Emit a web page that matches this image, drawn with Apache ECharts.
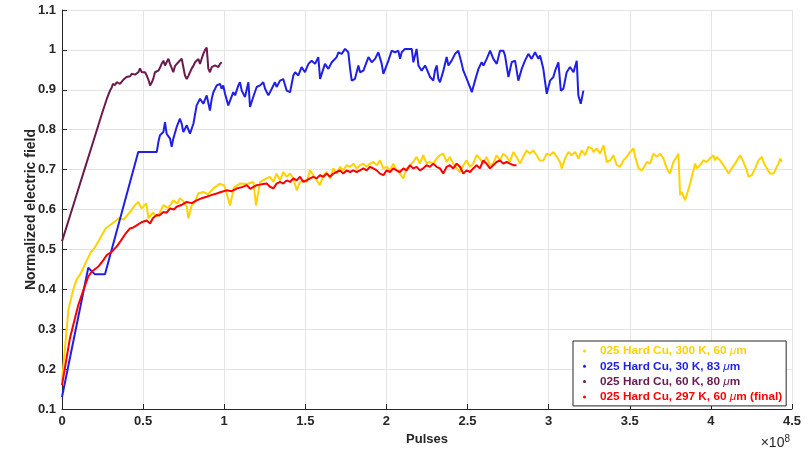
<!DOCTYPE html>
<html>
<head>
<meta charset="utf-8">
<script src="https://cdn.jsdelivr.net/npm/echarts@6/dist/echarts.min.js"></script>
<style>
  html, body { margin: 0; padding: 0; background: #fff; }
  #chart { width: 809px; height: 451px; }
</style>
</head>
<body>
<div id="chart"></div>
<script>
// Pulses are in units of 1e8; values are the normalized electric field.
const seriesNames = [
  '025 Hard Cu, 300 K, 60 μm',
  '025 Hard Cu, 30 K, 83 μm',
  '025 Hard Cu, 60 K, 80 μm',
  '025 Hard Cu, 297 K, 60 μm (final)'
];
const seriesColors = ['#ffd200', '#1f1fe6', '#6b1a4d', '#ff0000'];

const xTicks = { min: 0, max: 4.5, step: 0.5 };
const yTicks = { min: 0.1, max: 1.1, step: 0.1 };

const hardCu300K = [
  [0,0.17],[0.04,0.35],[0.07,0.40],[0.09,0.425],[0.11,0.436],[0.12,0.444],[0.13,0.44],[0.15,0.47],
  [0.18,0.494],[0.2,0.503],[0.235,0.528],[0.27,0.553],[0.31,0.565],[0.35,0.578],[0.38,0.575],
  [0.42,0.594],[0.45,0.611],[0.47,0.619],[0.49,0.603],[0.52,0.615],[0.533,0.578],[0.56,0.592],
  [0.584,0.583],[0.6,0.59],[0.625,0.611],[0.65,0.604],[0.67,0.612],[0.686,0.623],[0.71,0.615],
  [0.727,0.628],[0.75,0.62],[0.769,0.607],[0.779,0.578],[0.8,0.611],[0.82,0.62],[0.84,0.64],
  [0.871,0.644],[0.9,0.638],[0.933,0.653],[0.974,0.665],[1.0,0.66],[1.036,0.61],[1.06,0.655],
  [1.097,0.665],[1.14,0.664],[1.18,0.669],[1.196,0.61],[1.221,0.669],[1.262,0.678],
  [1.282,0.682],[1.303,0.669],[1.323,0.690],[1.344,0.673],[1.364,0.694],[1.385,0.682],[1.406,0.690],
  [1.426,0.678],[1.447,0.648],[1.467,0.669],[1.488,0.673],[1.508,0.669],[1.529,0.698],[1.549,0.686],
  [1.570,0.673],[1.590,0.661],[1.611,0.686],[1.632,0.694],[1.652,0.678],[1.673,0.703],[1.693,0.690],
  [1.714,0.707],[1.734,0.698],[1.755,0.711],[1.776,0.707],[1.796,0.715],[1.816,0.703],[1.837,0.711],
  [1.858,0.715],[1.878,0.707],[1.899,0.715],[1.919,0.719],[1.940,0.711],[1.960,0.723],[1.981,0.703],
  [2.001,0.707],[2.022,0.698],[2.042,0.715],[2.063,0.698],[2.083,0.690],[2.104,0.678],[2.124,0.703],
  [2.145,0.711],[2.165,0.719],[2.186,0.732],[2.206,0.715],[2.227,0.736],[2.247,0.715],[2.268,0.719],
  [2.289,0.715],[2.309,0.728],[2.330,0.736],[2.350,0.740],[2.371,0.719],[2.391,0.732],[2.412,0.715],
  [2.433,0.703],[2.453,0.694],[2.474,0.711],[2.494,0.723],[2.515,0.707],[2.535,0.715],[2.556,0.736],
  [2.576,0.728],[2.597,0.715],[2.617,0.732],[2.638,0.711],[2.658,0.715],[2.679,0.736],[2.700,0.723],
  [2.720,0.740],[2.741,0.732],[2.761,0.719],[2.782,0.744],[2.802,0.732],[2.823,0.715],[2.843,0.732],
  [2.864,0.748],[2.884,0.740],[2.905,0.748],[2.926,0.736],[2.946,0.723],
  [2.968,0.723],[2.988,0.740],[3.009,0.736],[3.029,0.744],[3.050,0.732],[3.070,0.719],[3.081,0.703],
  [3.101,0.728],[3.122,0.744],[3.142,0.736],[3.153,0.732],[3.163,0.744],[3.184,0.728],[3.204,0.748],
  [3.225,0.736],[3.245,0.757],[3.266,0.753],[3.276,0.744],[3.297,0.753],[3.317,0.740],[3.338,0.761],
  [3.348,0.740],[3.358,0.719],[3.379,0.723],[3.399,0.736],[3.420,0.711],[3.440,0.707],[3.461,0.723],
  [3.481,0.732],[3.502,0.744],[3.523,0.753],[3.533,0.732],[3.554,0.703],[3.574,0.698],[3.595,0.711],
  [3.605,0.719],[3.625,0.715],[3.646,0.740],[3.656,0.744],[3.666,0.732],[3.687,0.740],[3.707,0.728],
  [3.718,0.732],[3.728,0.703],[3.748,0.690],[3.769,0.719],[3.789,0.732],[3.800,0.740],[3.810,0.636],
  [3.820,0.644],[3.831,0.648],[3.841,0.623],[3.851,0.636],[3.872,0.665],[3.892,0.698],[3.903,0.715],
  [3.913,0.703],[3.933,0.711],[3.954,0.723],[3.974,0.719],[3.995,0.728],[4.015,0.736],[4.026,0.723],
  [4.036,0.732],[4.057,0.723],[4.077,0.711],[4.098,0.698],[4.108,0.690],[4.129,0.703],[4.149,0.715],
  [4.180,0.736],[4.190,0.740],[4.201,0.719],[4.221,0.698],[4.232,0.682],[4.252,0.686],[4.273,0.703],
  [4.293,0.723],[4.314,0.732],[4.324,0.719],[4.345,0.703],[4.365,0.690],[4.386,0.690],[4.406,0.707],
  [4.417,0.715],[4.427,0.728],[4.437,0.719]
];

const hardCu30K = [
  [0,0.13],[0.162,0.454],[0.173,0.45],[0.203,0.4375],[0.265,0.4375],[0.47,0.744],[0.584,0.744],
  [0.594,0.769],[0.604,0.786],[0.614,0.782],[0.625,0.794],[0.635,0.819],[0.645,0.79],[0.656,0.786],
  [0.666,0.7775],[0.676,0.757],[0.686,0.7775],[0.707,0.807],[0.727,0.8275],[0.738,0.815],[0.748,0.794],
  [0.769,0.811],[0.789,0.79],[0.810,0.815],[0.830,0.861],[0.851,0.8775],[0.871,0.865],[0.892,0.886],
  [0.912,0.848],[0.923,0.8775],[0.933,0.894],[0.954,0.911],[0.974,0.915],[0.984,0.9025],[0.994,0.911],
  [1.005,0.89],[1.025,0.861],[1.036,0.865],[1.056,0.894],[1.067,0.886],[1.087,0.911],[1.097,0.919],
  [1.108,0.898],[1.128,0.882],[1.149,0.919],[1.159,0.857],[1.179,0.882],[1.2,0.907],[1.221,0.911],
  [1.241,0.919],[1.252,0.9025],[1.272,0.886],[1.293,0.9025],[1.313,0.919],[1.323,0.907],[1.344,0.923],
  [1.364,0.927],[1.385,0.898],[1.406,0.894],[1.426,0.936],[1.437,0.944],[1.457,0.936],
  [1.477,0.957],[1.498,0.944],[1.519,0.965],[1.539,0.973],[1.560,0.965],[1.580,0.982],[1.591,0.9275],
  [1.601,0.923],[1.621,0.965],[1.642,0.9525],[1.663,0.969],[1.693,0.982],[1.704,0.994],[1.724,0.99],
  [1.745,1.0025],[1.765,0.994],[1.776,0.9525],[1.786,0.923],[1.806,0.9275],[1.827,0.961],[1.837,0.944],
  [1.858,0.948],[1.889,0.982],[1.909,0.969],[1.930,0.9775],[1.950,0.994],[1.971,0.965],[1.981,0.94],
  [2.012,0.973],[2.032,0.998],[2.053,0.994],[2.073,0.998],[2.084,0.9775],[2.094,0.994],[2.114,1.0025],
  [2.135,1.0025],[2.156,1.0025],[2.166,0.969],[2.186,1.0025],[2.197,0.961],[2.217,0.948],[2.238,0.961],
  [2.248,0.9525],[2.269,0.932],[2.289,0.923],[2.299,0.948],[2.310,0.961],[2.320,0.9275],[2.330,0.919],
  [2.351,0.948],[2.371,0.982],[2.382,0.961],[2.402,0.973],[2.423,0.99],[2.443,0.998],[2.454,0.994],
  [2.464,0.965],[2.474,0.948],[2.495,0.9275],[2.515,0.907],[2.526,0.894],[2.546,0.923],[2.567,0.9525],
  [2.587,0.969],[2.598,0.961],[2.618,0.9775],[2.639,0.998],[2.659,0.9775],[2.680,0.965],[2.700,0.998],
  [2.721,0.998],[2.731,0.986],[2.752,0.932],[2.772,0.969],[2.793,0.973],[2.813,0.923],[2.834,0.9525],
  [2.854,0.973],[2.875,0.99],[2.895,0.9775],[2.916,0.994],[2.937,0.9775],[2.947,0.986],[2.967,0.9525],
  [2.988,0.89],[3.009,0.923],[3.029,0.932],[3.040,0.948],[3.060,0.969],[3.075,0.898],[3.091,0.903],
  [3.111,0.944],[3.132,0.957],[3.153,0.944],[3.173,0.973],[3.183,0.886],[3.198,0.865],[3.214,0.898]
];

const hardCu60K = [
  [0,0.52],[0.05,0.585],[0.10,0.65],[0.15,0.715],[0.20,0.78],[0.25,0.845],[0.276,0.877],[0.296,0.898],
  [0.306,0.905],[0.314,0.915],[0.327,0.912],[0.337,0.919],[0.347,0.921],[0.357,0.915],[0.368,0.92],
  [0.378,0.925],[0.388,0.928],[0.398,0.932],[0.409,0.936],[0.42,0.934],[0.430,0.94],[0.44,0.938],
  [0.450,0.938],[0.46,0.94],[0.471,0.944],[0.481,0.954],[0.491,0.944],[0.502,0.948],[0.512,0.944],
  [0.522,0.936],[0.533,0.925],[0.543,0.911],[0.553,0.918],[0.563,0.928],[0.573,0.944],[0.584,0.94],
  [0.594,0.948],[0.604,0.955],[0.614,0.965],[0.625,0.973],[0.635,0.961],[0.645,0.969],[0.656,0.978],
  [0.666,0.965],[0.676,0.955],[0.686,0.944],[0.697,0.96],[0.707,0.965],[0.717,0.969],[0.727,0.974],
  [0.738,0.978],[0.748,0.982],[0.758,0.936],[0.769,0.927],[0.779,0.935],[0.789,0.944],[0.799,0.953],
  [0.81,0.96],[0.820,0.969],[0.830,0.973],[0.841,0.977],[0.851,0.965],[0.861,0.978],[0.871,0.99],
  [0.882,1.0],[0.892,1.006],[0.902,0.953],[0.912,0.944],[0.923,0.957],[0.933,0.955],[0.943,0.961],
  [0.953,0.958],[0.964,0.957],[0.974,0.965],[0.984,0.969]
];

const hardCu297KFinal = [
  [0,0.16],[0.049,0.2775],[0.1,0.36],[0.142,0.41],[0.162,0.432],[0.183,0.444],[0.224,0.457],
  [0.255,0.473],[0.276,0.486],[0.306,0.494],[0.337,0.507],[0.36,0.52],[0.388,0.5375],[0.419,0.5525],
  [0.44,0.555],[0.46,0.56],[0.49,0.568],[0.522,0.5725],[0.543,0.565],[0.56,0.578],[0.584,0.586],
  [0.6,0.585],[0.625,0.594],[0.645,0.592],[0.666,0.6025],[0.69,0.6],[0.707,0.607],[0.74,0.612],
  [0.769,0.619],[0.8,0.616],[0.830,0.623],[0.86,0.628],[0.892,0.632],[0.92,0.636],[0.954,0.64],
  [0.98,0.644],[1.015,0.648],[1.045,0.646],[1.077,0.6525],[1.11,0.656],[1.139,0.661],[1.16,0.652],
  [1.2,0.661],[1.23,0.663],[1.262,0.665],
  [1.282,0.657],[1.303,0.653],[1.323,0.665],[1.344,0.669],[1.364,0.665],[1.385,0.673],[1.406,0.669],
  [1.426,0.678],[1.447,0.673],[1.467,0.682],[1.488,0.669],[1.508,0.673],[1.529,0.678],[1.549,0.682],
  [1.570,0.678],[1.590,0.686],[1.611,0.682],[1.632,0.690],[1.652,0.682],[1.673,0.690],[1.693,0.694],
  [1.714,0.698],[1.734,0.690],[1.755,0.698],[1.776,0.694],[1.796,0.698],[1.816,0.694],[1.837,0.698],
  [1.858,0.703],[1.878,0.698],[1.899,0.707],[1.919,0.703],[1.940,0.698],[1.960,0.690],[1.981,0.686],
  [2.001,0.698],[2.022,0.694],[2.042,0.703],[2.063,0.698],[2.083,0.694],[2.104,0.703],[2.124,0.698],
  [2.145,0.711],[2.165,0.703],[2.186,0.707],[2.206,0.698],[2.227,0.703],[2.247,0.711],[2.268,0.707],
  [2.289,0.715],[2.309,0.707],[2.330,0.703],[2.350,0.690],[2.371,0.707],[2.391,0.711],[2.412,0.703],
  [2.433,0.715],[2.453,0.707],[2.474,0.690],[2.494,0.698],[2.515,0.694],[2.535,0.703],[2.556,0.711],
  [2.576,0.703],[2.597,0.723],[2.617,0.715],[2.638,0.703],[2.658,0.711],[2.679,0.719],[2.700,0.723],
  [2.720,0.715],[2.741,0.719],[2.761,0.715],[2.782,0.711],[2.802,0.711]
];

const seriesData = [hardCu300K, hardCu30K, hardCu60K, hardCu297KFinal];

const FONT = '"Liberation Sans", Arial, Helvetica, sans-serif';
const INK = '#262626';
const tickFmt = v => String(+v.toFixed(1));

const chart = echarts.init(document.getElementById('chart'), null, { renderer: 'canvas' });

chart.setOption({
  animation: false,
  backgroundColor: '#ffffff',
  grid: { left: 62, right: 17, top: 10, bottom: 40, containLabel: false },
  xAxis: {
    type: 'value',
    min: xTicks.min, max: xTicks.max, interval: xTicks.step,
    name: 'Pulses', nameLocation: 'middle', nameGap: 24, nameMoveOverlap: false,
    nameTextStyle: { color: INK, fontFamily: FONT, fontWeight: 'bold', fontSize: 13 },
    axisLine: { onZero: false, lineStyle: { color: INK, width: 1 } },
    axisTick: { inside: true, length: 5, lineStyle: { color: INK } },
    axisLabel: { color: INK, fontFamily: FONT, fontWeight: 'bold', fontSize: 13, margin: 6, formatter: tickFmt },
    splitLine: { show: true, lineStyle: { color: '#e4e4e4', width: 1 } }
  },
  yAxis: {
    type: 'value',
    min: yTicks.min, max: yTicks.max, interval: yTicks.step,
    name: 'Normalized electric field', nameLocation: 'middle', nameGap: 24, nameMoveOverlap: false,
    nameTextStyle: { color: INK, fontFamily: FONT, fontWeight: 'bold', fontSize: 14 },
    axisLine: { onZero: false, lineStyle: { color: INK, width: 1 } },
    axisTick: { inside: true, length: 5, lineStyle: { color: INK } },
    axisLabel: { color: INK, fontFamily: FONT, fontWeight: 'bold', fontSize: 13, margin: 6, formatter: tickFmt },
    splitLine: { show: true, lineStyle: { color: '#e4e4e4', width: 1 } }
  },
  legend: {
    orient: 'vertical',
    left: 573, top: 341,
    padding: [3, 4, 2, 10],
    itemGap: 1.3,
    itemWidth: 3, itemHeight: 3,
    icon: 'circle',
    backgroundColor: '#ffffff',
    borderColor: INK, borderWidth: 1, borderRadius: 0,
    formatter: name => name.replace('μ', '{mu|μ}'),
    textStyle: {
      fontFamily: FONT, fontWeight: 'bold', fontSize: 11.8, lineHeight: 14,
      padding: [0, 0, 0, 9],
      rich: { mu: { fontStyle: 'italic', fontWeight: 'normal', fontFamily: FONT, fontSize: 11.8 } }
    },
    data: seriesNames.map((n, i) => ({ name: n, textStyle: { color: seriesColors[i] } }))
  },
  graphic: [{
    type: 'text',
    right: 19, bottom: 1,
    style: {
      text: '×10{sup|8}',
      fill: INK,
      font: '14px ' + FONT,
      rich: { sup: { fontSize: 10, fill: INK, verticalAlign: 'top', padding: [0, 0, 8, 0] } }
    }
  }],
  series: seriesNames.map((n, i) => ({
    name: n,
    type: 'line',
    data: seriesData[i],
    showSymbol: false,
    symbol: 'circle',
    symbolSize: 3,
    color: seriesColors[i],
    lineStyle: { width: 2, color: seriesColors[i] },
    z: 2 + i
  }))
});
</script>
</body>
</html>
